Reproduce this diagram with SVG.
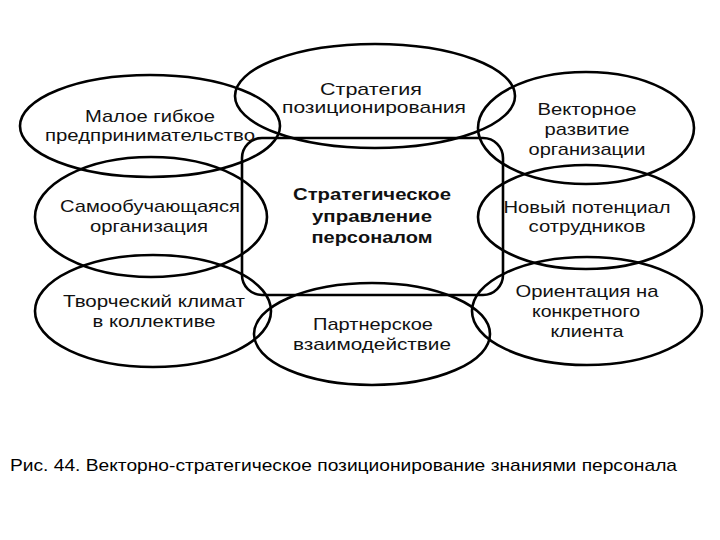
<svg xmlns="http://www.w3.org/2000/svg" width="720" height="540" viewBox="0 0 720 540">
<style>
.sh{fill:none;stroke:#000;stroke-width:2.6}
.t{font-family:"Liberation Sans",Arial,sans-serif;font-size:17px;fill:#111;text-anchor:middle}
.b{font-weight:bold}
.cap{font-family:"Liberation Sans",Arial,sans-serif;font-size:17px;fill:#000}
</style>
<rect width="720" height="540" fill="#fff"/>
<g id="center">
<rect class="sh" x="242" y="138" width="261" height="157" rx="20" ry="20"/>
<text class="t b" x="372" y="200" textLength="158" lengthAdjust="spacingAndGlyphs">Стратегическое</text>
<text class="t b" x="372" y="222" textLength="120" lengthAdjust="spacingAndGlyphs">управление</text>
<text class="t b" x="372" y="243" textLength="121" lengthAdjust="spacingAndGlyphs">персоналом</text>
</g>
<g id="n-maloe">
<ellipse class="sh" cx="150" cy="126" rx="130" ry="51"/>
<text class="t" x="150" y="122" textLength="130" lengthAdjust="spacingAndGlyphs">Малое гибкое</text>
<text class="t" x="150" y="141" textLength="210" lengthAdjust="spacingAndGlyphs">предпринимательство</text>
</g>
<g id="n-strategiya">
<ellipse class="sh" cx="375" cy="96" rx="140" ry="52"/>
<text class="t" x="371" y="95" textLength="102" lengthAdjust="spacingAndGlyphs">Стратегия</text>
<text class="t" x="374" y="113" textLength="184" lengthAdjust="spacingAndGlyphs">позиционирования</text>
</g>
<g id="n-vektor">
<ellipse class="sh" cx="586" cy="128" rx="108" ry="56"/>
<text class="t" x="587" y="115" textLength="99" lengthAdjust="spacingAndGlyphs">Векторное</text>
<text class="t" x="587" y="135" textLength="85" lengthAdjust="spacingAndGlyphs">развитие</text>
<text class="t" x="587" y="155" textLength="117" lengthAdjust="spacingAndGlyphs">организации</text>
</g>
<g id="n-samoob">
<ellipse class="sh" cx="151" cy="217" rx="116" ry="60"/>
<text class="t" x="150" y="212" textLength="180" lengthAdjust="spacingAndGlyphs">Самообучающаяся</text>
<text class="t" x="149" y="232" textLength="118" lengthAdjust="spacingAndGlyphs">организация</text>
</g>
<g id="n-noviy">
<ellipse class="sh" cx="586" cy="217" rx="108" ry="52"/>
<text class="t" x="587" y="213" textLength="167" lengthAdjust="spacingAndGlyphs">Новый потенциал</text>
<text class="t" x="587" y="232" textLength="117" lengthAdjust="spacingAndGlyphs">сотрудников</text>
</g>
<g id="n-tvorch">
<ellipse class="sh" cx="153" cy="311" rx="118" ry="56"/>
<text class="t" x="154" y="307" textLength="182" lengthAdjust="spacingAndGlyphs">Творческий климат</text>
<text class="t" x="154" y="327" textLength="123" lengthAdjust="spacingAndGlyphs">в коллективе</text>
</g>
<g id="n-partner">
<ellipse class="sh" cx="372" cy="334" rx="118" ry="51"/>
<text class="t" x="373" y="330" textLength="120" lengthAdjust="spacingAndGlyphs">Партнерское</text>
<text class="t" x="372" y="350" textLength="158" lengthAdjust="spacingAndGlyphs">взаимодействие</text>
</g>
<g id="n-orient">
<ellipse class="sh" cx="587" cy="311" rx="115" ry="54"/>
<text class="t" x="587" y="297" textLength="143" lengthAdjust="spacingAndGlyphs">Ориентация на</text>
<text class="t" x="586" y="317" textLength="108" lengthAdjust="spacingAndGlyphs">конкретного</text>
<text class="t" x="587" y="337" textLength="73" lengthAdjust="spacingAndGlyphs">клиента</text>
</g>
<g id="connectors"></g>
<text class="cap" x="10" y="471" textLength="667" lengthAdjust="spacingAndGlyphs">Рис. 44. Векторно-стратегическое позиционирование знаниями персонала</text>
</svg>
